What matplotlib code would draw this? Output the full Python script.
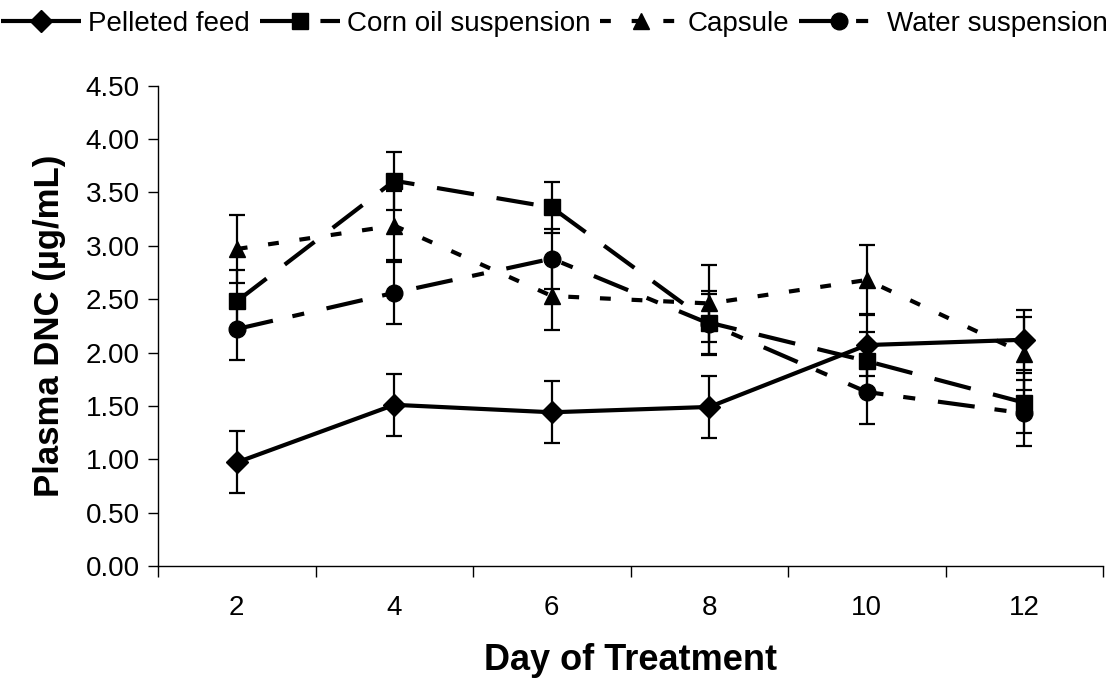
import matplotlib.pyplot as plt
import numpy as np

plt.rcParams['font.family'] = ['Liberation Sans', 'DejaVu Sans']

# days of treatment (category axis)
days = ['2', '4', '6', '8', '10', '12']

# plasma DNC, ug/mL, with error bars
pelleted = [0.97, 1.51, 1.44, 1.49, 2.07, 2.12]
pelleted_err = [0.29, 0.29, 0.29, 0.29, 0.29, 0.28]
corn_oil = [2.48, 3.61, 3.36, 2.28, 1.92, 1.53]
corn_oil_err = [0.29, 0.27, 0.24, 0.30, 0.27, 0.28]
capsule = [2.97, 3.19, 2.53, 2.46, 2.68, 1.99]
capsule_err = [0.32, 0.32, 0.32, 0.36, 0.33, 0.34]
water = [2.22, 2.56, 2.88, 2.27, 1.63, 1.43]
water_err = [0.29, 0.29, 0.28, 0.28, 0.30, 0.31]

fig = plt.figure(figsize=(11.08, 6.81), dpi=100)
ax = fig.add_axes([0.1426, 0.169, 0.853, 0.705])

x = np.arange(1, len(days) + 1)
lw = 3.0
series = [
    ('Pelleted feed', pelleted, pelleted_err, 'D', 11, None),
    ('Corn oil suspension', corn_oil, corn_oil_err, 's', 11, [9, 5.5]),
    ('Capsule', capsule, capsule_err, '^', 12, [2.6, 5]),
    ('Water suspension', water, water_err, 'o', 12, [8.9, 4.8, 2.9, 5.5]),
]
handles = []
for name, y, e, m, ms, dash in series:
    ax.errorbar(x, y, yerr=e, fmt='none', ecolor='black', elinewidth=1.6,
                capsize=5.5, capthick=1.6, zorder=2)
    line, = ax.plot(x, y, color='black', lw=lw, marker=m, ms=ms,
                    solid_capstyle='butt', dash_capstyle='butt', label=name, zorder=3)
    if dash is not None:
        line.set_dashes(dash)
    handles.append(line)

ax.set_xlim(0.5, 6.5)
ax.set_ylim(0, 4.5)
ax.set_yticks(np.arange(0, 4.51, 0.5))
ax.set_yticklabels(['%.2f' % v for v in np.arange(0, 4.51, 0.5)])
ax.set_xticks(np.arange(0.5, 6.6, 1))
ax.set_xticklabels([])
ax.set_xticks(x, minor=True)
ax.set_xticklabels(days, minor=True)
ax.tick_params(axis='x', which='major', length=8, width=1, direction='out')
ax.tick_params(axis='x', which='minor', length=0, pad=21, labelsize=20)
ax.tick_params(axis='y', length=7, width=1, direction='out', pad=6, labelsize=20)

for s in ['top', 'right']:
    ax.spines[s].set_visible(False)
for s in ['left', 'bottom']:
    ax.spines[s].set_linewidth(1.0)

ax.set_xlabel('Day of Treatment', fontsize=26, fontweight='bold', labelpad=16)
ax.set_ylabel('Plasma DNC (µg/mL)', fontsize=25, fontweight='bold', labelpad=14)

fig.legend(handles=handles, loc='upper center', bbox_to_anchor=(0.5, 1.0),
           ncol=4, frameon=False, fontsize=20, handlelength=2.9,
           handletextpad=0.25, columnspacing=0.35, borderaxespad=0.0)

fig.savefig('out.png', dpi=100)
